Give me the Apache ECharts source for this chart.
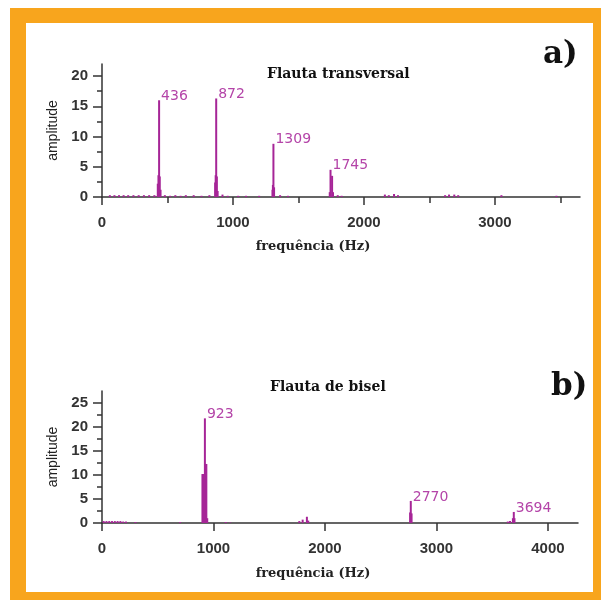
<!DOCTYPE html>
<html>
<head>
<meta charset="utf-8">
<script src="https://cdn.jsdelivr.net/npm/echarts@6/dist/echarts.min.js"></script>
<style>
  html, body { margin: 0; padding: 0; background: #fff; }
  #main { width: 601px; height: 600px; }
</style>
</head>
<body>
<div id="main"></div>
<script>
// panel a) - Flauta transversal
var peakFreqA = [436, 872, 1309, 1745];
var peakAmpA = [16.0, 16.3, 8.8, 4.5];
var sideA = [[426, 2.2], [431, 3.6], [441, 3.4], [447, 1.2],
             [864, 2.4], [868, 3.6], [877, 3.4], [883, 1.0],
             [1302, 1.2], [1305, 2.0], [1314, 1.6],
             [1739, 0.8], [1757, 3.5], [1764, 0.8]];
var noiseA = [[60, 0.3], [95, 0.3], [130, 0.3], [165, 0.3], [200, 0.3], [240, 0.3], [280, 0.3],
              [320, 0.3], [360, 0.3], [400, 0.3], [480, 0.3], [520, 0.2], [560, 0.3], [600, 0.2],
              [640, 0.3], [700, 0.3], [760, 0.2], [820, 0.3], [920, 0.4], [960, 0.2], [1040, 0.2],
              [1100, 0.2], [1200, 0.2], [1360, 0.3], [1420, 0.2], [1800, 0.3], [1830, 0.2],
              [2160, 0.4], [2190, 0.3], [2230, 0.5], [2260, 0.3], [2620, 0.3], [2650, 0.4],
              [2690, 0.4], [2720, 0.3], [3050, 0.3], [3470, 0.2]];
var xTicksA = [0, 1000, 2000, 3000];
var xMinorA = [500, 1500, 2500, 3500];
var yTicksA = [0, 5, 10, 15, 20];
var yMinorA = [2.5, 7.5, 12.5, 17.5];

// panel b) - Flauta de bisel
var peakFreqB = [923, 2770, 3694];
var peakAmpB = [21.8, 4.6, 2.3];
var sideB = [[901, 10.2], [907, 10.2], [914, 10.2], [930, 12.3], [936, 12.3], [944, 1.0],
             [1770, 0.4], [1800, 0.7], [1838, 1.3], [1850, 0.5],
             [2764, 2.2], [2777, 2.0], [3640, 0.3], [3660, 0.4], [3686, 1.0], [3700, 1.0]];
var noiseB = [[15, 0.4], [40, 0.4], [65, 0.4], [90, 0.4], [115, 0.4], [140, 0.4], [165, 0.4],
              [190, 0.3], [215, 0.3], [300, 0.2], [700, 0.2], [1110, 0.2], [1150, 0.1]];
var xTicksB = [0, 1000, 2000, 3000, 4000];
var yTicksB = [0, 5, 10, 15, 20, 25];
var yMinorB = [2.5, 7.5, 12.5, 17.5, 22.5];

var barColor = '#a62597';
var labelColor = '#b444a8';
var axisColor = '#333';

function plain(v) { return String(v); }

function buildData(freqs, amps, side, noise) {
  var out = [];
  noise.forEach(function (p) { out.push(p); });
  side.forEach(function (p) { out.push(p); });
  freqs.forEach(function (f, i) {
    out.push({
      value: [f, amps[i]],
      label: {
        show: true,
        formatter: String(f),
        position: 'top',
        align: 'left',
        distance: 0,
        offset: [2, 3],
        color: labelColor,
        fontFamily: 'DejaVu Sans',
        fontSize: 14
      }
    });
  });
  return out;
}

function xAxisMain(grid, max, ticks, nameGap, namePad) {
  return {
    type: 'value', gridIndex: grid, min: 0, max: max, position: 'bottom',
    splitLine: { show: false },
    axisLine: { onZero: false, lineStyle: { color: axisColor, width: 1.5 } },
    axisTick: { customValues: ticks, length: 8, lineStyle: { color: axisColor, width: 1.5 } },
    axisLabel: { customValues: ticks, formatter: plain, margin: 18, color: axisColor, fontFamily: 'Liberation Sans', fontWeight: 'bold', fontSize: 15 },
    name: 'frequência (Hz)', nameLocation: 'middle', nameGap: nameGap,
    nameTextStyle: { color: '#222', fontFamily: 'DejaVu Serif', fontWeight: 'bold', fontSize: 13, padding: [0, namePad, 0, 0] }
  };
}

function xAxisMinor(grid, max, ticks) {
  return {
    type: 'value', gridIndex: grid, min: 0, max: max, position: 'bottom',
    splitLine: { show: false }, axisLine: { show: false, onZero: false }, axisLabel: { show: false },
    axisTick: { customValues: ticks, length: 6, lineStyle: { color: axisColor, width: 1.5 } }
  };
}

function yAxisMain(grid, max, ticks) {
  return {
    type: 'value', gridIndex: grid, min: 0, max: max, position: 'left',
    splitLine: { show: false },
    axisLine: { show: true, onZero: false, lineStyle: { color: axisColor, width: 1.5 } },
    axisTick: { show: true, customValues: ticks, length: 9, lineStyle: { color: axisColor, width: 1.5 } },
    axisLabel: { customValues: ticks, formatter: plain, margin: 14, color: axisColor, fontFamily: 'Liberation Sans', fontWeight: 'bold', fontSize: 15 },
    name: 'amplitude', nameLocation: 'middle', nameGap: 41,
    nameTextStyle: { color: '#222', fontFamily: 'Liberation Sans', fontSize: 14 }
  };
}

function yAxisMinor(grid, max, ticks) {
  return {
    type: 'value', gridIndex: grid, min: 0, max: max, position: 'left',
    splitLine: { show: false }, axisLine: { show: false, onZero: false }, axisLabel: { show: false },
    axisTick: { show: true, customValues: ticks, length: 5, lineStyle: { color: axisColor, width: 1.5 } }
  };
}

var option = {
  animation: false,
  graphic: [
    { type: 'rect', z: -10, shape: { x: 10, y: 8, width: 591, height: 592 }, style: { fill: '#f8a51d' } },
    { type: 'rect', z: -9, shape: { x: 26, y: 23, width: 567, height: 569 }, style: { fill: '#fff' } }
  ],
  title: [
    { text: 'Flauta transversal', left: 262, top: 62, textStyle: { fontFamily: 'DejaVu Serif', fontWeight: 'bold', fontSize: 14, color: '#111' } },
    { text: 'a)', left: 538, top: 34, textStyle: { fontFamily: 'DejaVu Serif', fontWeight: 'bold', fontSize: 31, color: '#111' } },
    { text: 'Flauta de bisel', left: 265, top: 375, textStyle: { fontFamily: 'DejaVu Serif', fontWeight: 'bold', fontSize: 14, color: '#111' } },
    { text: 'b)', left: 546, top: 366, textStyle: { fontFamily: 'DejaVu Serif', fontWeight: 'bold', fontSize: 31, color: '#111' } }
  ],
  grid: [
    { left: 102, top: 64, width: 478, height: 133 },
    { left: 102, top: 391, width: 476, height: 132 }
  ],
  xAxis: [
    xAxisMain(0, 3650, xTicksA, 43, 56),
    xAxisMinor(0, 3650, xMinorA),
    xAxisMain(1, 4270, xTicksB, 44, 54)
  ],
  yAxis: [
    yAxisMain(0, 22, yTicksA),
    yAxisMinor(0, 22, yMinorA),
    yAxisMain(1, 27.5, yTicksB),
    yAxisMinor(1, 27.5, yMinorB)
  ],
  series: [
    {
      type: 'bar', xAxisIndex: 0, yAxisIndex: 0, barWidth: 2,
      itemStyle: { color: barColor },
      data: buildData(peakFreqA, peakAmpA, sideA, noiseA)
    },
    {
      type: 'bar', xAxisIndex: 2, yAxisIndex: 2, barWidth: 2,
      itemStyle: { color: barColor },
      data: buildData(peakFreqB, peakAmpB, sideB, noiseB)
    }
  ]
};

var myChart = echarts.init(document.getElementById('main'));
myChart.setOption(option);
</script>
</body>
</html>
